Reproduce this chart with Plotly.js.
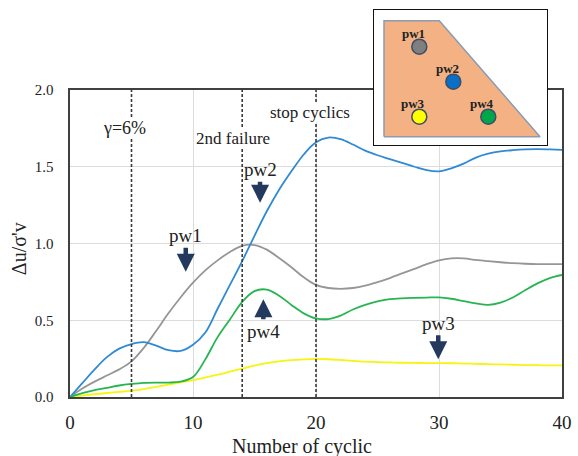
<!DOCTYPE html>
<html>
<head>
<meta charset="utf-8">
<script src="https://cdn.plot.ly/plotly-3.0.1.min.js"></script>
<style>html,body{margin:0;padding:0;background:#fff;}#chart{width:578px;height:456px;}</style>
</head>
<body>
<div id="chart"></div>
<script>
// ---- data ----
const cycles = [0,1,2,3,4,5,6,7,8,9,10,11,12,13,14,15,16,17,18,19,20,21,22,23,24,25,26,27,28,29,30,31,32,33,34,35,36,37,38,39,40];
const pw1 = [0,0.055,0.10,0.14,0.18,0.232,0.32,0.43,0.545,0.65,0.745,0.825,0.89,0.945,0.985,0.99,0.96,0.905,0.845,0.78,0.73,0.71,0.705,0.71,0.725,0.748,0.775,0.805,0.835,0.865,0.89,0.903,0.903,0.893,0.885,0.878,0.872,0.868,0.866,0.866,0.866];
const pw2 = [0,0.09,0.18,0.26,0.315,0.345,0.357,0.335,0.305,0.30,0.34,0.42,0.575,0.73,0.885,1.05,1.21,1.35,1.47,1.58,1.66,1.69,1.68,1.645,1.605,1.575,1.55,1.525,1.50,1.478,1.47,1.49,1.52,1.56,1.585,1.60,1.608,1.613,1.615,1.613,1.61];
const pw3 = [0,0.009,0.018,0.026,0.033,0.041,0.052,0.066,0.08,0.095,0.11,0.127,0.145,0.165,0.185,0.205,0.22,0.232,0.24,0.245,0.248,0.246,0.241,0.235,0.23,0.227,0.225,0.223,0.222,0.221,0.221,0.22,0.218,0.216,0.214,0.212,0.21,0.208,0.207,0.206,0.206];
const pw4 = [0,0.025,0.045,0.06,0.075,0.085,0.092,0.094,0.094,0.10,0.13,0.245,0.39,0.505,0.62,0.69,0.70,0.66,0.60,0.545,0.512,0.508,0.53,0.57,0.60,0.623,0.637,0.643,0.646,0.648,0.649,0.64,0.625,0.61,0.60,0.615,0.648,0.695,0.74,0.775,0.795];
const seriesNames = ['pw1','pw2','pw3','pw4'];
const seriesColors = ['#969696','#2f8ad6','#f5f50f','#27b552'];
const xTicks = [0,10,20,30,40];
const yTicks = [0,0.5,1,1.5,2];
const eventX = [5,14,20];
const eventLabels = ['γ=6%','2nd failure','stop cyclics'];
const eventLabelY = [1.75,1.685,1.855];
const eventLabelX = [4.47,13.28,19.51];
// arrows pointing at curves: tip (x,y), text offset (px)
const arrowTipX = [9.41,15.45,29.94,15.72];
const arrowTipY = [0.816,1.266,0.246,0.636];
const arrowOffY = [-36,-33,-36,32];
// inset sketch: sensor locations (inset units, 1 unit = 1px)
const trapX = [10,10,65.3,166,10];
const trapY = [8.3,124.3,124.3,8.3,8.3];
const sensorX = [45.3,79.3,45.3,114.3];
const sensorY = [98.3,63.3,28.3,28.3];
const sensorColors = ['#7f7f7f','#0a6fc6','#ffff00','#00a64a'];

const serif = '"Liberation Serif", "Times New Roman", serif';
const allY = [pw1,pw2,pw3,pw4];
const traces = allY.map((ys,i)=>({
  x: cycles, y: ys, type:'scatter', mode:'lines', name: seriesNames[i],
  line:{color: seriesColors[i], width:1.8, shape:'spline', smoothing:1},
  xaxis:'x', yaxis:'y', hoverinfo:'skip'
}));
// inset
traces.push({x:[0,173,173,0,0], y:[0,0,135,135,0], type:'scatter', mode:'lines', fill:'toself',
  fillcolor:'#ffffff', line:{width:0, color:'#ffffff'}, xaxis:'x2', yaxis:'y2', hoverinfo:'skip'});
traces.push({x:trapX, y:trapY, type:'scatter', mode:'lines', fill:'toself',
  fillcolor:'#f4b183', line:{width:1.5, color:'#8a9bb3'}, xaxis:'x2', yaxis:'y2', hoverinfo:'skip'});
traces.push({x:sensorX, y:sensorY, type:'scatter', mode:'markers',
  marker:{size:15, color:sensorColors, line:{color:'#3d4e66', width:1.5}}, xaxis:'x2', yaxis:'y2', hoverinfo:'skip'});

const annotations = [];
eventX.forEach((x,i)=>{
  annotations.push({x:eventLabelX[i], y:eventLabelY[i], xref:'x', yref:'y', text:eventLabels[i], showarrow:false,
    font:{family:serif, size:i===0?18:17, color:'#222'}, bgcolor:'#ffffff', borderpad:0});
});
seriesNames.forEach((n,i)=>{
  annotations.push({x:arrowTipX[i], y:arrowTipY[i], xref:'x', yref:'y', text:n, showarrow:true,
    ax:0, ay:arrowOffY[i], arrowhead:2, arrowsize:0.8, arrowwidth:4.5, arrowcolor:'#233a5e', standoff:0,
    font:{family:serif, size:19, color:'#222'}});
  annotations.push({x:sensorX[i], y:sensorY[i], xref:'x2', yref:'y2', text:'<b>'+n+'</b>', showarrow:false,
    xshift:-6, yshift:13, font:{family:serif, size:13, color:'#222'}});
});
annotations.push({x:0.471, y:-0.127, xref:'paper', yref:'paper', text:'Number of cyclic', showarrow:false,
  font:{family:serif, size:20, color:'#222'}, yanchor:'middle'});
annotations.push({x:-0.105, y:0.378, xref:'paper', yref:'paper', text:"Δu/σ'v", showarrow:false, textangle:-90,
  font:{family:serif, size:20, color:'#222'}, xanchor:'center', yanchor:'middle'});

const shapes = eventX.map(x=>({type:'line', xref:'x', yref:'y', x0:x, x1:x, y0:0, y1:2,
  line:{color:'#3a3a3a', width:1.6, dash:'3px,2px'}, layer:'above'}));

const layout = {
  width:578, height:456, margin:{l:70, r:16, t:5, b:59},
  paper_bgcolor:'#ffffff', plot_bgcolor:'#ffffff', showlegend:false, hovermode:false,
  font:{family:serif},
  xaxis:{range:[0,40], tickvals:xTicks, ticktext:xTicks.map(String), showgrid:true, gridcolor:'#dcdcdc', gridwidth:1,
    zeroline:false, showline:true, mirror:true, linecolor:'#404040', linewidth:1.6, ticks:'',
    tickfont:{family:serif, size:19, color:'#222'}, ticklabelstandoff:8, anchor:'y'},
  yaxis:{range:[0,2], domain:[0,0.78316], tickvals:yTicks, ticktext:yTicks.map(v=>v.toFixed(1)), showgrid:true,
    gridcolor:'#dcdcdc', gridwidth:1, zeroline:false, showline:true, mirror:true, linecolor:'#404040', linewidth:1.6,
    ticks:'', tickfont:{family:serif, size:15, color:'#222'}, ticklabelstandoff:12, anchor:'x'},
  xaxis2:{domain:[0.6179,0.9695], range:[0,173], anchor:'y2', showgrid:false, zeroline:false, showticklabels:false,
    ticks:'', showline:true, mirror:true, linecolor:'#111', linewidth:1.5},
  yaxis2:{domain:[0.6429,0.9872], range:[0,135], anchor:'x2', showgrid:false, zeroline:false, showticklabels:false,
    ticks:'', showline:true, mirror:true, linecolor:'#111', linewidth:1.5},
  annotations: annotations, shapes: shapes
};
Plotly.newPlot('chart', traces, layout, {displayModeBar:false, staticPlot:true});
</script>
</body>
</html>
